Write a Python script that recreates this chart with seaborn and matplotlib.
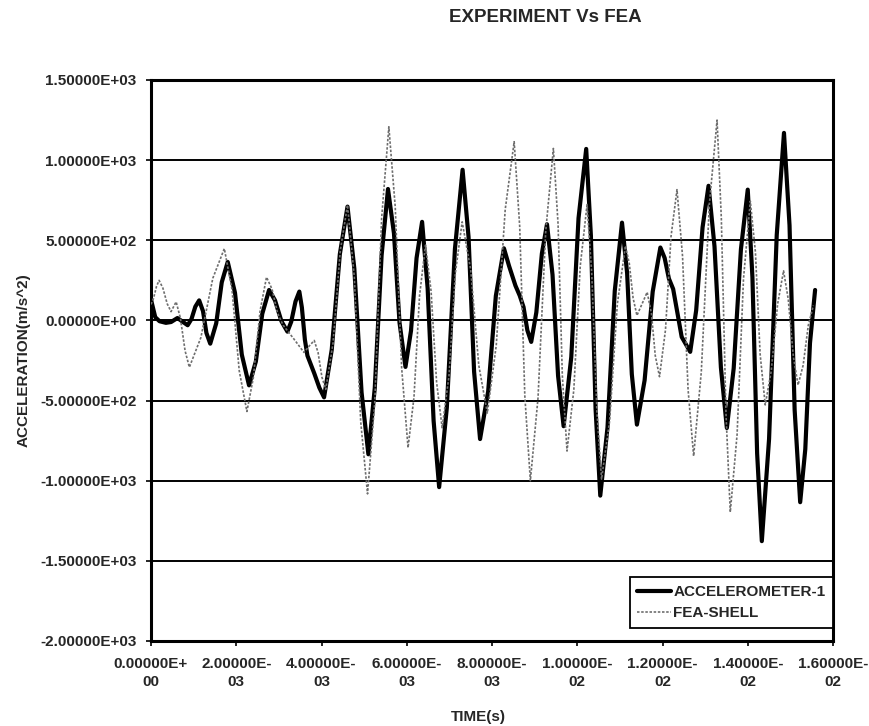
import matplotlib

matplotlib.use("Agg")
import matplotlib.pyplot as plt
import pandas as pd
import seaborn as sns

# --- data (time in seconds, acceleration in m/s^2)
ACC_TIME = [
    0.00000, 0.00010, 0.00020, 0.00035, 0.00047, 0.00062, 0.00086, 0.00095,
    0.00104, 0.00113, 0.00122, 0.00130, 0.00139, 0.00153, 0.00166, 0.00180,
    0.00197, 0.00213, 0.00230, 0.00246, 0.00261, 0.00277, 0.00291, 0.00306,
    0.00320, 0.00329, 0.00339, 0.00348, 0.00354, 0.00361, 0.00367, 0.00383,
    0.00395, 0.00406, 0.00424, 0.00443, 0.00461, 0.00477, 0.00494, 0.00510,
    0.00525, 0.00541, 0.00556, 0.00570, 0.00583, 0.00597, 0.00610, 0.00623,
    0.00636, 0.00649, 0.00663, 0.00676, 0.00694, 0.00713, 0.00731, 0.00745,
    0.00758, 0.00772, 0.00791, 0.00809, 0.00828, 0.00840, 0.00855, 0.00865,
    0.00874, 0.00883, 0.00892, 0.00904, 0.00917, 0.00929, 0.00942, 0.00955,
    0.00968, 0.00986, 0.01003, 0.01021, 0.01032, 0.01043, 0.01054, 0.01071,
    0.01088, 0.01105, 0.01117, 0.01128, 0.01140, 0.01158, 0.01177, 0.01195,
    0.01205, 0.01215, 0.01225, 0.01235, 0.01245, 0.01265, 0.01279, 0.01294,
    0.01308, 0.01322, 0.01337, 0.01351, 0.01367, 0.01384, 0.01400, 0.01411,
    0.01422, 0.01433, 0.01450, 0.01468, 0.01485, 0.01498, 0.01510, 0.01523,
    0.01535, 0.01546, 0.01558,
]
ACC_VALUE = [
    130, 20, -5, -15, -10, 15, -30, 9,
    86, 125, 58, -78, -145, -18, 238, 365,
    173, -213, -405, -256, 41, 190, 125, -5,
    -70, -8, 118, 180, 80, -120, -220, -330,
    -420, -480, -183, 413, 710, 324, -449, -835,
    -421, 406, 820, 543, -13, -290, -64, 389,
    615, 201, -626, -1040, -545, 445, 940, 520,
    -320, -740, -443, 153, 450, 340, 217, 155,
    83, -62, -134, 50, 417, 600, 285, -345,
    -660, -228, 638, 1070, 529, -552, -1093, -667,
    184, 610, 295, -335, -650, -374, 179, 455,
    390, 261, 196, 47, -103, -196, 63, 581,
    840, 462, -293, -671, -299, 444, 816, 268,
    -829, -1377, -740, 533, 1170, 594, -558, -1134,
    -803, -141, 190,
]

FEA_TIME = [
    0.00000, 0.00006, 0.00013, 0.00019, 0.00028, 0.00038, 0.00047, 0.00059,
    0.00069, 0.00080, 0.00090, 0.00117, 0.00145, 0.00172, 0.00190, 0.00207,
    0.00225, 0.00240, 0.00256, 0.00271, 0.00284, 0.00297, 0.00310, 0.00335,
    0.00359, 0.00371, 0.00383, 0.00392, 0.00401, 0.00410, 0.00427, 0.00444,
    0.00461, 0.00477, 0.00492, 0.00508, 0.00525, 0.00541, 0.00558, 0.00573,
    0.00588, 0.00603, 0.00617, 0.00630, 0.00644, 0.00657, 0.00670, 0.00683,
    0.00699, 0.00714, 0.00730, 0.00750, 0.00769, 0.00789, 0.00810, 0.00831,
    0.00852, 0.00865, 0.00877, 0.00890, 0.00908, 0.00926, 0.00944, 0.00955,
    0.00965, 0.00976, 0.00992, 0.01007, 0.01023, 0.01034, 0.01046, 0.01057,
    0.01076, 0.01094, 0.01113, 0.01122, 0.01131, 0.01140, 0.01152, 0.01164,
    0.01174, 0.01183, 0.01193, 0.01207, 0.01220, 0.01234, 0.01247, 0.01260,
    0.01273, 0.01291, 0.01310, 0.01328, 0.01338, 0.01349, 0.01359, 0.01375,
    0.01390, 0.01406, 0.01418, 0.01429, 0.01441, 0.01455, 0.01470, 0.01484,
    0.01495, 0.01507, 0.01518, 0.01530, 0.01542, 0.01554,
]
FEA_VALUE = [
    100, 138, 213, 250, 201, 104, 55, 116,
    14, -190, -292, -107, 263, 448, 194, -314,
    -568, -359, 61, 270, 195, 45, -30, -115,
    -200, -160, -125, -201, -354, -430, -143, 433,
    720, 270, -632, -1082, -510, 636, 1208, 708,
    -294, -794, -478, 154, 470, 185, -385, -670,
    -349, 294, 615, 317, -280, -578, -155, 692,
    1115, 586, -471, -1000, -482, 555, 1073, 601,
    -343, -815, -431, 339, 723, 295, -562, -990,
    -626, 101, 465, 357, 140, 31, 103, 176,
    44, -219, -351, -59, 524, 816, 401, -431,
    -846, -322, 726, 1250, 639, -585, -1196, -711,
    259, 744, 426, -209, -527, -318, 101, 310,
    132, -225, -403, -279, -31, 93,
]

SERIES_NAMES = ["ACCELEROMETER-1", "FEA-SHELL"]

X_TICKS = [0.000, 0.002, 0.004, 0.006, 0.008, 0.010, 0.012, 0.014, 0.016]
X_TICK_LABELS = [
    "0.00000E+\n00", "2.00000E-\n03", "4.00000E-\n03", "6.00000E-\n03",
    "8.00000E-\n03", "1.00000E-\n02", "1.20000E-\n02", "1.40000E-\n02",
    "1.60000E-\n02",
]
Y_TICKS = [-2000, -1500, -1000, -500, 0, 500, 1000, 1500]
Y_TICK_LABELS = [
    "-2.00000E+03", "-1.50000E+03", "-1.00000E+03", "-5.00000E+02",
    "0.00000E+00", "5.00000E+02", "1.00000E+03", "1.50000E+03",
]

acc = pd.DataFrame({"time": ACC_TIME, "accel": ACC_VALUE})
fea = pd.DataFrame({"time": FEA_TIME, "accel": FEA_VALUE})

sns.set_style("white")
plt.rcParams["font.family"] = ["Liberation Sans", "DejaVu Sans"]
plt.rcParams["font.weight"] = "bold"

fig = plt.figure(figsize=(8.69, 7.26), dpi=100)
ax = fig.add_axes([151 / 869, 1 - 641 / 726, 682 / 869, 561 / 726])

# horizontal gridlines only, like the Excel original
for y in Y_TICKS[1:-1]:
    ax.axhline(y, color="black", linewidth=1.4, zorder=1)

sns.lineplot(
    data=acc, x="time", y="accel", estimator=None, sort=False,
    color="black", linewidth=3.0, label=SERIES_NAMES[0], ax=ax, zorder=3,
)
sns.lineplot(
    data=fea, x="time", y="accel", estimator=None, sort=False,
    color="#6e6e6e", linewidth=1.2, linestyle=(0, (1.5, 1.0)),
    label=SERIES_NAMES[1], ax=ax, zorder=4,
)

ax.set_xlim(0, 0.016)
ax.set_ylim(-2000, 1500)
ax.set_xticks(X_TICKS)
ax.set_xticklabels(X_TICK_LABELS, fontsize=11, fontweight="bold", linespacing=1.35)
ax.set_yticks(Y_TICKS)
ax.set_yticklabels(Y_TICK_LABELS, fontsize=11, fontweight="bold")
ax.tick_params(axis="both", direction="out", length=3.5, width=1.2,
               color="black", bottom=True, left=True)
ax.tick_params(axis="x", pad=8)
ax.tick_params(axis="y", pad=7)

for spine in ax.spines.values():
    spine.set_visible(True)
    spine.set_color("black")
    spine.set_linewidth(2.2)

ax.set_xlabel("TIME(s)", fontsize=11, fontweight="bold")
ax.set_ylabel("ACCELERATION(m/s^2)", fontsize=11, fontweight="bold")
ax.xaxis.set_label_coords(0.48, -0.123)
ax.yaxis.set_label_coords(-0.177, 0.5)

leg = ax.legend(
    loc="lower right", bbox_to_anchor=(1.0, 0.024), borderaxespad=0,
    frameon=True, fancybox=False, framealpha=1, edgecolor="black",
    prop={"size": 11, "weight": "bold"}, handlelength=2.2,
    handletextpad=0.15, borderpad=0.5, labelspacing=0.45,
)
leg.get_frame().set_linewidth(1.3)

fig.text(545 / 869, 1 - 17 / 726, "EXPERIMENT Vs FEA", ha="center", va="center",
         fontsize=13.5, fontweight="bold")

fig.savefig("out.png", dpi=100, facecolor="white")
plt.close(fig)
